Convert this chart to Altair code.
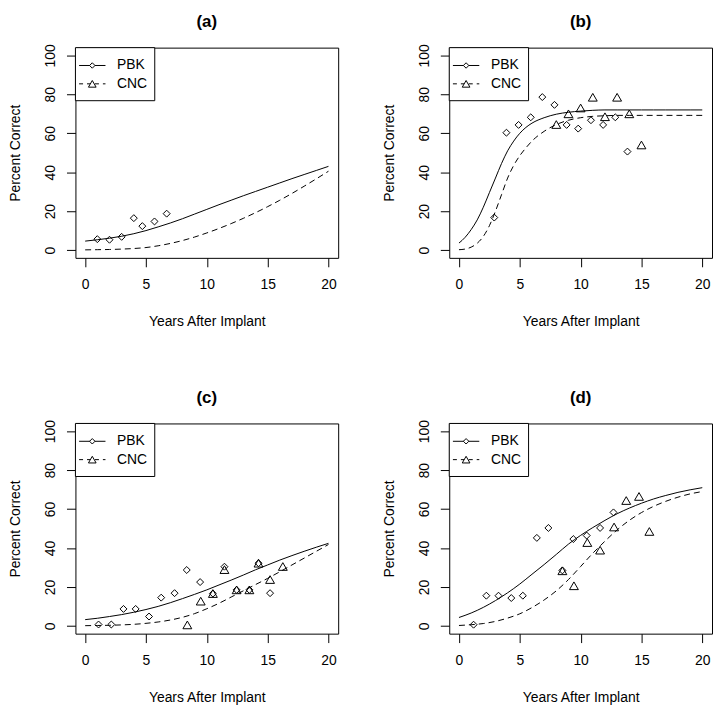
import altair as alt
import pandas as pd

FONT = "Liberation Sans"

# ---------------- data ----------------
# Panel (a)
a_pbk_x = [1, 2, 3, 4, 4.7, 5.7, 6.7]
a_pbk_y = [5.6, 5.3, 6.8, 16.4, 12.3, 14.7, 18.7]
a_cnc_x = []
a_cnc_y = []
a_fit_x = list(range(0, 21))
a_pbk_fit = [4.6, 5.3, 6.1, 7.1, 8.4, 10.0, 11.9, 13.9, 16.1, 18.5, 20.9,
             23.3, 25.6, 27.9, 30.1, 32.3, 34.5, 36.7, 38.8, 40.9, 43.0]
a_cnc_fit = [0.1, 0.2, 0.3, 0.5, 0.8, 1.3, 2.2, 3.4, 4.9, 6.7, 8.8,
             11.1, 13.6, 16.3, 19.2, 22.3, 25.6, 29.1, 32.8, 36.6, 40.5]

# Panel (b)
b_pbk_x = [2.9, 3.9, 4.9, 5.9, 6.85, 7.85, 8.85, 9.8, 10.85, 11.85, 12.85, 13.85]
b_pbk_y = [16.7, 60.3, 64.3, 68.2, 78.6, 74.6, 64.3, 62.4, 66.7, 64.3, 68.2, 50.6]
b_cnc_x = [8, 9, 10, 11, 12, 13, 14, 15]
b_cnc_y = [64.5, 70.0, 73.0, 78.5, 68.5, 78.5, 70.0, 54.0]
b_fit_x = [0, 0.5, 1, 1.5, 2, 2.5, 3, 3.5, 4, 4.5, 5, 5.5, 6, 7, 8, 9, 10,
           11, 12, 13, 14, 15, 16, 17, 18, 19, 20]
b_pbk_fit = [3.6, 6.5, 10.5, 15.5, 22.0, 29.5, 37.0, 44.5, 51.0, 56.0, 60.0,
             63.0, 65.2, 68.0, 69.8, 70.8, 71.4, 71.8, 72.0, 72.0, 72.0, 72.0,
             72.0, 72.0, 72.0, 72.0, 72.0]
b_cnc_fit = [0.2, 0.5, 1.5, 3.5, 7.0, 12.5, 20.0, 28.5, 37.0, 43.5, 48.5,
             52.5, 56.0, 61.0, 64.5, 66.7, 68.0, 68.7, 69.0, 69.2, 69.2, 69.2,
             69.2, 69.2, 69.2, 69.2, 69.2]

# Panel (c)
c_pbk_x = [1.1, 2.15, 3.15, 4.15, 5.25, 6.25, 7.35, 8.35, 9.45, 10.5, 11.45,
           12.45, 13.5, 14.25, 15.2]
c_pbk_y = [0.7, 0.7, 8.7, 8.7, 4.8, 14.5, 16.8, 28.7, 22.5, 16.6, 30.4,
           18.5, 18.5, 32.2, 16.8]
c_cnc_x = [8.4, 9.5, 10.5, 11.45, 12.45, 13.5, 14.25, 15.2, 16.25]
c_cnc_y = [0.5, 12.7, 16.6, 28.9, 18.5, 18.5, 32.2, 23.8, 30.5]
c_fit_x = list(range(0, 21))
c_pbk_fit = [3.2, 3.9, 4.8, 5.8, 7.0, 8.4, 10.0, 11.9, 14.0, 16.2, 18.5,
             21.0, 23.5, 26.1, 28.8, 31.3, 33.8, 36.1, 38.3, 40.4, 42.4]
c_cnc_fit = [0.1, 0.2, 0.3, 0.5, 0.8, 1.3, 2.0, 3.0, 4.4, 6.3, 8.8,
             11.6, 14.8, 18.0, 21.2, 24.4, 27.8, 31.3, 34.8, 38.3, 41.8]

# Panel (d)
d_pbk_x = [1.2, 2.25, 3.25, 4.3, 5.25, 6.4, 7.35, 8.5, 9.4, 10.5, 11.6, 12.7]
d_pbk_y = [0.6, 15.5, 15.5, 14.3, 15.5, 45.2, 50.3, 28.5, 44.6, 46.4, 50.3, 58.3]
d_cnc_x = [8.5, 9.45, 10.55, 11.6, 12.75, 13.75, 14.8, 15.65]
d_cnc_y = [28.3, 20.6, 42.8, 38.9, 50.8, 64.4, 66.5, 48.5]
d_fit_x = list(range(0, 21))
d_pbk_fit = [4.3, 6.6, 9.5, 13.0, 17.0, 21.5, 26.5, 31.5, 36.7, 42.0, 46.5,
             50.5, 54.2, 57.6, 60.5, 63.0, 65.2, 67.0, 68.6, 69.9, 71.0]
d_cnc_fit = [0.2, 0.6, 1.2, 2.3, 4.0, 6.2, 9.4, 13.3, 18.0, 23.8, 30.5,
             37.3, 43.5, 49.3, 54.2, 58.2, 61.4, 64.0, 66.1, 67.8, 69.0]

x_ticks = [0, 5, 10, 15, 20]
y_ticks = [0, 20, 40, 60, 80, 100]
legend_labels = ["PBK", "CNC"]

# ---------------- styling ----------------
W, H = 265, 212
DASH = [6, 4]

xscale = alt.Scale(domain=[-0.8, 20.8], nice=False, zero=False)
yscale = alt.Scale(domain=[-4, 104], nice=False, zero=False)

xaxis = alt.Axis(values=x_ticks, domain=False, grid=False, tickSize=9,
                 tickColor="black", labelPadding=11, labelFontSize=14,
                 labelFont=FONT, labelColor="black", labelFlush=False,
                 titleFontSize=14, titleFont=FONT, titleFontWeight="normal",
                 titleColor="black", titlePadding=23)
yaxis = alt.Axis(values=y_ticks, domain=False, grid=False, tickSize=9,
                 tickColor="black", labelPadding=9, labelFontSize=14,
                 labelFont=FONT, labelColor="black", labelFlush=False,
                 labelAngle=270, labelAlign="center", labelBaseline="bottom",
                 titleFontSize=14, titleFont=FONT, titleFontWeight="normal",
                 titleColor="black", titlePadding=21)


def enc_xy():
    return dict(
        x=alt.X("x:Q", scale=xscale, axis=xaxis, title="Years After Implant"),
        y=alt.Y("y:Q", scale=yscale, axis=yaxis, title="Percent Correct"),
    )


def panel(label, pbk_x, pbk_y, cnc_x, cnc_y, fit_x, pbk_fit, cnc_fit):
    fit_pbk = pd.DataFrame({"x": fit_x, "y": pbk_fit})
    fit_cnc = pd.DataFrame({"x": fit_x, "y": cnc_fit})
    pts_pbk = pd.DataFrame({"x": pbk_x, "y": pbk_y})
    pts_cnc = pd.DataFrame({"x": cnc_x, "y": cnc_y})

    layers = [
        alt.Chart(fit_pbk).mark_line(color="black", strokeWidth=1,
                                     interpolate="monotone").encode(**enc_xy()),
        alt.Chart(fit_cnc).mark_line(color="black", strokeWidth=1,
                                     strokeDash=DASH,
                                     interpolate="monotone").encode(**enc_xy()),
        alt.Chart(pts_pbk).mark_point(shape="diamond", size=49, filled=False,
                                      stroke="black", strokeWidth=1,
                                      opacity=1).encode(**enc_xy()),
    ]
    if cnc_x:
        layers.append(
            alt.Chart(pts_cnc).mark_point(shape="triangle-up", size=80,
                                          filled=False, stroke="black",
                                          strokeWidth=1,
                                          opacity=1).encode(**enc_xy()))

    one = pd.DataFrame({"k": [0]})
    rows = [(18, None), (36.5, DASH)]
    layers.append(
        alt.Chart(one).mark_rect(fill="white", stroke="black", strokeWidth=1)
        .encode(x=alt.value(0), x2=alt.value(80), y=alt.value(0),
                y2=alt.value(53.5)))
    for (ry, dash), name, shape, size in zip(rows, legend_labels,
                                             ["diamond", "triangle-up"],
                                             [30, 60]):
        rule_kw = dict(color="black", strokeWidth=1)
        if dash:
            rule_kw["strokeDash"] = [4, 4]
        layers.append(alt.Chart(one).mark_rule(**rule_kw).encode(
            x=alt.value(3.7), x2=alt.value(30.3), y=alt.value(ry)))
        layers.append(alt.Chart(one).mark_point(
            shape=shape, size=size, filled=True, fill="white", stroke="black",
            strokeWidth=1, opacity=1).encode(x=alt.value(17), y=alt.value(ry)))
        layers.append(alt.Chart(one).mark_text(
            align="left", baseline="middle", fontSize=14, font=FONT,
            color="black").encode(x=alt.value(42), y=alt.value(ry),
                                  text=alt.value(name)))

    return alt.layer(*layers).properties(
        width=W, height=H,
        title=alt.TitleParams(label, fontSize=17, fontWeight="bold", font=FONT,
                              color="black", anchor="middle", offset=0,
                              baseline="alphabetic"),
    )


pa = panel("(a)", a_pbk_x, a_pbk_y, a_cnc_x, a_cnc_y, a_fit_x, a_pbk_fit, a_cnc_fit)
pb = panel("(b)", b_pbk_x, b_pbk_y, b_cnc_x, b_cnc_y, b_fit_x, b_pbk_fit, b_cnc_fit)
pc = panel("(c)", c_pbk_x, c_pbk_y, c_cnc_x, c_cnc_y, c_fit_x, c_pbk_fit, c_cnc_fit)
pd_ = panel("(d)", d_pbk_x, d_pbk_y, d_cnc_x, d_cnc_y, d_fit_x, d_pbk_fit, d_cnc_fit)

chart = alt.vconcat(
    alt.hconcat(pa, pb, spacing=43),
    alt.hconcat(pc, pd_, spacing=43),
    spacing=59,
).properties(
    padding={"left": 0, "top": 1, "right": 0, "bottom": 0},
    background="white",
).configure_view(stroke="black", strokeWidth=1)

chart.save("out.html", embed_options={"renderer": "svg", "actions": False})
